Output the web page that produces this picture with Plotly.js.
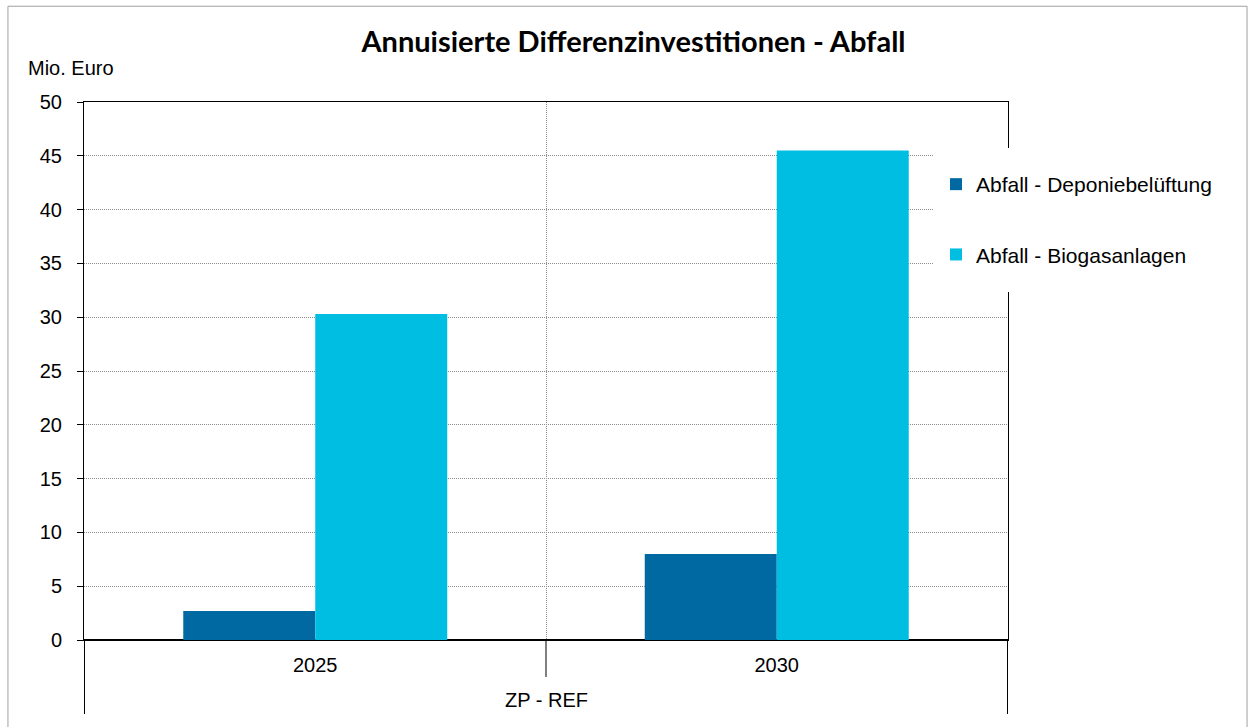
<!DOCTYPE html>
<html>
<head>
<meta charset="utf-8">
<script src="https://cdn.plot.ly/plotly-3.0.1.min.js"></script>
<style>
html,body{margin:0;padding:0;background:#fff;}
#chart{width:1255px;height:727px;}
</style>
</head>
<body>
<div id="chart"></div>
<script>
const groupLabel = "ZP - REF";
const years = ["2025", "2030"];
const deponie = [2.7, 8.0];
const biogas = [30.3, 45.5];
const seriesNames = ["Abfall - Deponiebelüftung", "Abfall - Biogasanlagen"];
const titleText = "Annuisierte Differenzinvestitionen - Abfall";
const yUnit = "Mio. Euro";

const traces = [
  {type: "bar", name: seriesNames[0], x: years, y: deponie,
   marker: {color: "#0069A2", line: {width: 0}}, legendgroup: "a", hoverinfo: "y"},
  {type: "bar", name: seriesNames[1], x: years, y: biogas,
   marker: {color: "#00BEE1", line: {width: 0}}, legendgroup: "b", hoverinfo: "y"}
];

// category boundary tick marks and outer dividers (axis decoration)
const shapes = [];
for (let i = 0; i <= years.length; i++) {
  const outer = (i === 0 || i === years.length);
  shapes.push({type: "line", xref: "x", yref: "paper", x0: i - 0.5, x1: i - 0.5,
               y0: 0, y1: outer ? -0.1375 : -0.0688, line: {color: "#000", width: 1}});
}
// legend area background (hides grid and frame behind the legend, like the original)
shapes.push({type: "rect", xref: "paper", yref: "paper", x0: (934 - 84) / 924, x1: (1016 - 84) / 924,
             y0: (640 - 292) / 538, y1: (640 - 148) / 538, line: {width: 0}, fillcolor: "#fff", layer: "above"});
// outer chart frame
shapes.push({type: "rect", xref: "paper", yref: "paper", x0: -0.0823, x1: 1.2587, y0: -0.2, y1: 1.178,
             line: {color: "#a0a0a0", width: 1}, fillcolor: "rgba(0,0,0,0)", layer: "below"});

const layout = {
  width: 1255, height: 727,
  margin: {l: 84, r: 247, t: 102, b: 87, pad: 0},
  paper_bgcolor: "#fff", plot_bgcolor: "#fff",
  font: {family: "Liberation Sans, Arial, sans-serif", size: 20, color: "#000"},
  barmode: "group", bargap: 0.428, bargroupgap: 0,
  title: {text: "<b>" + titleText + "</b>", font: {family: "Lato, sans-serif", size: 29, color: "#000"},
          xref: "container", x: 633.5 / 1255, xanchor: "center", yref: "container", y: 1 - 42 / 727, yanchor: "middle"},
  xaxis: {type: "category", showline: true, linecolor: "#000", linewidth: 1, mirror: true,
          ticks: "", tickson: "boundaries", ticklabelstandoff: 7,
          showgrid: true, gridcolor: "#8c8c8c", griddash: "1px,1px", gridwidth: 1,
          tickfont: {size: 20, color: "#000"}},
  yaxis: {range: [0, 50], dtick: 5, showline: true, linecolor: "#000", linewidth: 1, mirror: true,
          ticks: "outside", ticklen: 6, tickcolor: "#000", ticklabelstandoff: 11,
          showgrid: true, gridcolor: "#8c8c8c", griddash: "1px,1px", gridwidth: 1,
          zeroline: true, zerolinecolor: "#000", zerolinewidth: 2,
          tickfont: {size: 20, color: "#000"}, automargin: false},
  legend: {x: (936 - 84) / 924, xanchor: "left", y: (640 - 164) / 538, yanchor: "top", bgcolor: "rgba(0,0,0,0)", borderwidth: 0,
           font: {size: 21, color: "#000"}, traceorder: "grouped", tracegroupgap: 40},
  annotations: [
    {text: yUnit, xref: "paper", yref: "paper", x: (26 - 84) / 924, y: (640 - 68) / 538, xanchor: "left", yanchor: "middle",
     showarrow: false, font: {size: 20, color: "#000"}},
    {text: groupLabel, xref: "paper", yref: "paper", x: 0.5, y: (640 - 700) / 538, xanchor: "center", yanchor: "middle",
     showarrow: false, font: {size: 20, color: "#000"}}
  ],
  shapes: shapes
};

Plotly.newPlot("chart", traces, layout, {displayModeBar: false, staticPlot: true});
</script>
</body>
</html>
